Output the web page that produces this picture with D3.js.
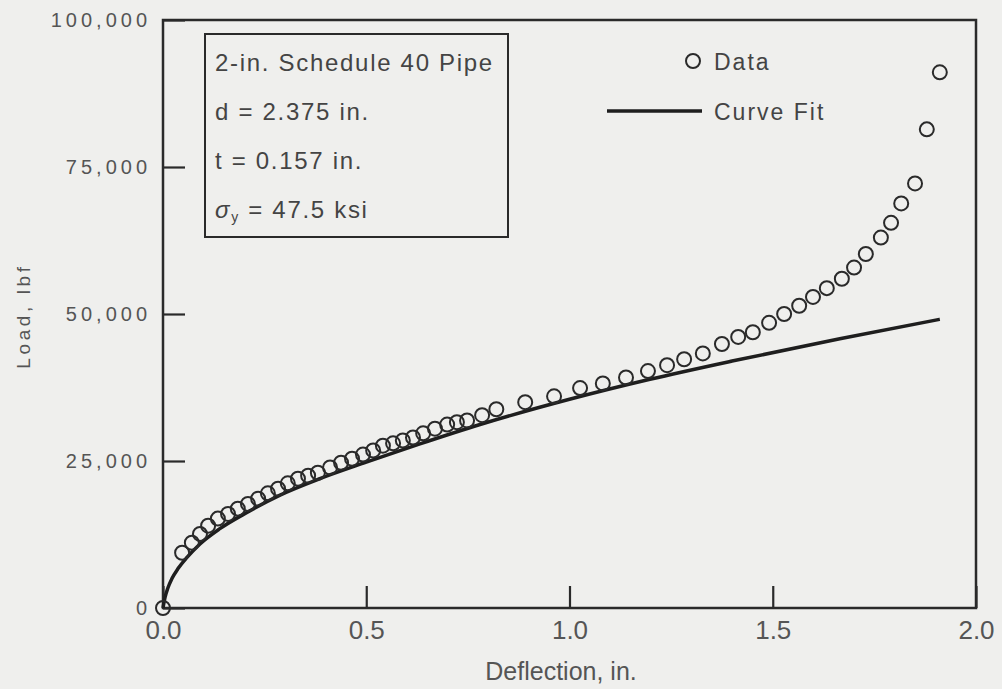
<!DOCTYPE html>
<html>
<head>
<meta charset="utf-8">
<script src="https://cdn.jsdelivr.net/npm/d3@7"></script>
<style>
  body { margin: 0; background: #efefed; }
  svg { display: block; }
</style>
</head>
<body>
<svg id="chart" width="1002" height="689"></svg>
<script>
// measured points, deflection in inches / load in lbf
const deflection = [0, 0.047, 0.071, 0.091, 0.111, 0.135, 0.160, 0.184, 0.209, 0.234, 0.258, 0.283,
  0.307, 0.332, 0.357, 0.381, 0.411, 0.438, 0.465, 0.492, 0.517, 0.541, 0.566, 0.590, 0.615,
  0.640, 0.669, 0.699, 0.723, 0.748, 0.785, 0.820, 0.891, 0.962, 1.026, 1.082, 1.139, 1.193,
  1.240, 1.282, 1.328, 1.375, 1.415, 1.451, 1.491, 1.528, 1.565, 1.599, 1.633, 1.670, 1.700,
  1.729, 1.766, 1.791, 1.816, 1.850, 1.879, 1.911];
const load = [0, 9400, 11100, 12600, 14000, 15200, 16000, 16900, 17700, 18600, 19500, 20300,
  21200, 22000, 22500, 23000, 23900, 24700, 25400, 26100, 26800, 27600, 28000, 28500, 29000,
  29700, 30500, 31200, 31600, 31900, 32800, 33800, 35000, 36000, 37400, 38200, 39200, 40300,
  41300, 42300, 43300, 44900, 46100, 46900, 48500, 50000, 51400, 52900, 54400, 56000, 57900,
  60200, 63000, 65500, 68800, 72200, 81400, 91100];

// curve fit
const fitDeflection = [0, 0.005, 0.012, 0.022, 0.037, 0.059, 0.091, 0.14, 0.20, 0.288, 0.386,
  0.5, 0.632, 0.78, 1.0, 1.198, 1.40, 1.665, 1.911];
const fitLoad = [0, 1800, 3400, 5000, 6700, 8600, 10900, 13500, 16000, 19200, 22000,
  24800, 27900, 31200, 35500, 38900, 42000, 45800, 49100];

const xTicks = [0, 0.5, 1.0, 1.5, 2.0];
const yTicks = [0, 25000, 50000, 75000, 100000];
const infoLines = ["2-in. Schedule 40 Pipe", "d = 2.375 in.", "t = 0.157 in."];

const svg = d3.select("#chart");
const m = {left: 163, right: 976, top: 20, bottom: 608};

const x = d3.scaleLinear().domain([0, 2]).range([m.left, m.right]);
const y = d3.scaleLinear().domain([0, 100000]).range([m.bottom, m.top]);

const ink = "#2a2a2a";

// frame
svg.append("rect")
  .attr("x", m.left).attr("y", m.top)
  .attr("width", m.right - m.left).attr("height", m.bottom - m.top)
  .attr("fill", "none").attr("stroke", ink).attr("stroke-width", 2.5);

// axes, ticks pointing inward
const yAxis = svg.append("g")
  .attr("transform", `translate(${m.left},0)`)
  .call(d3.axisLeft(y).tickValues(yTicks).tickFormat(d3.format(",")).tickSizeInner(-22).tickSizeOuter(0).tickPadding(12));

const xAxis = svg.append("g")
  .attr("transform", `translate(0,${m.bottom})`)
  .call(d3.axisBottom(x).tickValues(xTicks).tickFormat(d3.format(".1f")).tickSizeInner(-22).tickSizeOuter(0).tickPadding(13));

[xAxis, yAxis].forEach(g => {
  g.select(".domain").remove();
  g.selectAll("line").attr("stroke", ink).attr("stroke-width", 2.2);
});

yAxis.selectAll("text")
  .attr("fill", "#555")
  .style("font-family", "'Liberation Sans', Arial, sans-serif")
  .style("font-size", "20px")
  .style("letter-spacing", "4px");

xAxis.selectAll("text")
  .attr("fill", "#555")
  .style("font-family", "'Liberation Sans Narrow', 'Liberation Sans', sans-serif")
  .style("font-size", "26px");

// axis titles
svg.append("text")
  .attr("x", 561).attr("y", 680)
  .attr("text-anchor", "middle")
  .attr("fill", "#555")
  .style("font-family", "'Liberation Sans Narrow', 'Liberation Sans', sans-serif")
  .style("font-size", "25px")
  .text("Deflection, in.");

svg.append("text")
  .attr("transform", "translate(30,316) rotate(-90)")
  .attr("text-anchor", "middle")
  .attr("fill", "#555")
  .style("font-family", "'Liberation Sans', Arial, sans-serif")
  .style("font-size", "19px")
  .style("letter-spacing", "3.6px")
  .text("Load, lbf");

// curve fit
const line = d3.line().curve(d3.curveMonotoneX);
svg.append("path")
  .attr("d", line(fitDeflection.map((d, i) => [x(d), y(fitLoad[i])])))
  .attr("fill", "none").attr("stroke", "#1e1e1e").attr("stroke-width", 3.5);

// data points
svg.append("g").selectAll("circle")
  .data(deflection.map((d, i) => [d, load[i]]))
  .join("circle")
  .attr("cx", d => x(d[0])).attr("cy", d => y(d[1]))
  .attr("r", 7)
  .attr("fill", "none").attr("stroke", "#2a2a2a").attr("stroke-width", 2);

// info box
const info = svg.append("g");
info.append("rect")
  .attr("x", 205).attr("y", 34).attr("width", 303).attr("height", 203)
  .attr("fill", "none").attr("stroke", ink).attr("stroke-width", 2);

const infoStyle = s => s.attr("fill", "#444")
  .style("font-family", "'Liberation Sans', Arial, sans-serif")
  .style("font-size", "24px")
  .style("letter-spacing", "1.7px");

infoLines.forEach((t, i) => {
  info.append("text").attr("x", 215).attr("y", 71 + i * 49).text(t).call(infoStyle);
});
const sig = info.append("text").attr("x", 215).attr("y", 218).call(infoStyle);
sig.append("tspan").style("font-style", "italic").text("σ");
sig.append("tspan").attr("dy", 4).style("font-size", "14px").text("y");
sig.append("tspan").attr("dy", -4).text(" = 47.5 ksi");

// legend
const legend = svg.append("g");
legend.append("circle").attr("cx", 693).attr("cy", 61).attr("r", 7)
  .attr("fill", "none").attr("stroke", "#2a2a2a").attr("stroke-width", 2);
legend.append("line").attr("x1", 607).attr("x2", 702).attr("y1", 111).attr("y2", 111)
  .attr("stroke", "#1e1e1e").attr("stroke-width", 3.5);
const legStyle = s => s.attr("fill", "#444")
  .style("font-family", "'Liberation Sans', Arial, sans-serif")
  .style("font-size", "23px")
  .style("letter-spacing", "2px");
legend.append("text").attr("x", 714).attr("y", 70).text("Data").call(legStyle);
legend.append("text").attr("x", 714).attr("y", 120).text("Curve Fit").call(legStyle);
</script>
</body>
</html>
